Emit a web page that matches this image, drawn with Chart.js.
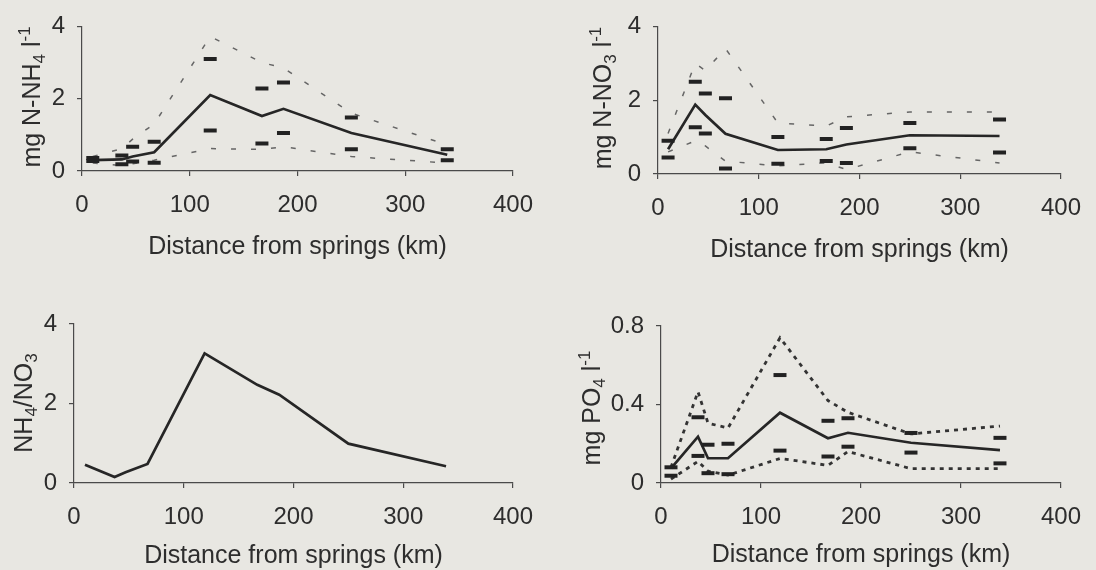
<!DOCTYPE html>
<html>
<head>
<meta charset="utf-8">
<script src="https://cdn.jsdelivr.net/npm/chart.js@4.4.1/dist/chart.umd.min.js"></script>
<style>
  html, body { margin: 0; padding: 0; background: #e8e7e2; }
  #wrap { position: relative; width: 1096px; height: 570px; overflow: hidden; }
  canvas { position: absolute; }
</style>
</head>
<body>
<div id="wrap">
  <canvas id="c1" width="548" height="285" style="left:0;top:0"></canvas>
  <canvas id="c2" width="548" height="285" style="left:548px;top:0"></canvas>
  <canvas id="c3" width="548" height="285" style="left:0;top:285px"></canvas>
  <canvas id="c4" width="548" height="285" style="left:548px;top:285px"></canvas>
</div>
<script>
// sampling sites, km from the springs
let distance = [10, 37, 47, 67, 119, 167, 187, 250, 339];

// N-NH4 (mg/l)
let nh4Mean = [0.3, 0.32, 0.4, 0.52, 2.1, 1.52, 1.72, 1.05, 0.45];
let nh4Max  = [0.4, 0.62, 0.88, 1.3, 3.72, 3.0, 2.85, 1.6, 0.72];
let nh4Min  = [0.22, 0.15, 0.2, 0.3, 0.62, 0.6, 0.67, 0.4, 0.22];
let nh4Hi   = [0.36, 0.43, 0.67, 0.81, 3.1, 2.28, 2.45, 1.48, 0.6];
let nh4Lo   = [0.28, 0.19, 0.26, 0.23, 1.12, 0.76, 1.05, 0.6, 0.3];

// N-NO3 (mg/l)
let no3Mean = [0.67, 1.88, 1.6, 1.09, 0.65, 0.67, 0.8, 1.05, 1.03];
let no3Max  = [1.1, 3.0, 2.8, 3.4, 1.38, 1.3, 1.55, 1.68, 1.68];
let no3Min  = [0.6, 0.9, 0.76, 0.35, 0.22, 0.3, 0.12, 0.6, 0.3];
let no3Hi   = [0.9, 2.5, 2.18, 2.05, 1.0, 0.95, 1.25, 1.38, 1.48];
let no3Lo   = [0.45, 1.27, 1.1, 0.15, 0.28, 0.35, 0.3, 0.7, 0.58];

// NH4/NO3 ratio
let ratio = [0.46, 0.15, 0.27, 0.48, 3.26, 2.47, 2.22, 0.99, 0.42];

// PO4 (mg/l)
let po4Mean = [0.075, 0.236, 0.126, 0.126, 0.358, 0.228, 0.256, 0.205, 0.168];
let po4Max  = [0.08, 0.465, 0.305, 0.28, 0.74, 0.42, 0.36, 0.25, 0.29];
let po4Min  = [0.02, 0.11, 0.06, 0.04, 0.125, 0.09, 0.16, 0.073, 0.073];
let po4Hi   = [0.08, 0.335, 0.195, 0.2, 0.55, 0.317, 0.33, 0.255, 0.23];
let po4Lo   = [0.037, 0.138, 0.05, 0.045, 0.165, 0.135, 0.185, 0.155, 0.1];

let xTicks = [0, 100, 200, 300, 400];

const ink = "#2d2d2d";
const axisCol = "#4a4a4a";
const family = '"Liberation Sans", Arial, sans-serif';
const font = { family: family, size: 24 };
const titleFont = { family: family, size: 25 };

function pts(ys) {
  return distance.map((x, i) => ({ x: x, y: ys[i] }));
}

function meanLine(ys) {
  return { data: pts(ys), showLine: true, borderColor: "#262626", borderWidth: 2.7, pointRadius: 0, tension: 0 };
}
function rangeLine(ys, dash, w, col) {
  return { data: pts(ys), showLine: true, borderColor: col, borderWidth: w, borderDash: dash, pointRadius: 0, tension: 0 };
}
function marks(ys) {
  return { data: pts(ys), showLine: false, pointStyle: "line", pointRadius: 6.5, pointBorderWidth: 4, pointBorderColor: "#222", pointBackgroundColor: "#222" };
}

// y axis title with sub / superscripts
const yTitlePlugin = {
  id: "yTitle",
  afterDraw(chart, args, o) {
    const ctx = chart.ctx;
    ctx.save();
    ctx.translate(o.x, o.y);
    ctx.rotate(-Math.PI / 2);
    ctx.fillStyle = ink;
    ctx.textBaseline = "alphabetic";
    let total = 0;
    const widths = o.parts.map(p => {
      ctx.font = (p.s ? 17 : 25) + "px " + family;
      const w = ctx.measureText(p.t).width;
      total += w;
      return w;
    });
    let x = -total / 2;
    o.parts.forEach((p, i) => {
      ctx.font = (p.s ? 17 : 25) + "px " + family;
      let dy = 0;
      if (p.s === -1) dy = 5;
      if (p.s === 1) dy = -10;
      ctx.fillText(p.t, x, 9 + dy);
      x += widths[i];
    });
    ctx.restore();
  }
};

function panel(id, area, yMax, yStep, datasets, yTitle) {
  const W = 548, H = 285;
  return new Chart(document.getElementById(id), {
    type: "scatter",
    data: { datasets: datasets },
    options: {
      responsive: false,
      animation: false,
      layout: { padding: { left: 0, top: area.top, right: W - area.right, bottom: 0 } },
      plugins: { legend: { display: false }, tooltip: { enabled: false }, yTitle: yTitle },
      scales: {
        x: {
          type: "linear", min: 0, max: 400,
          afterBuildTicks: s => { s.ticks = xTicks.map(v => ({ value: v })); },
          ticks: { color: ink, font: font, padding: 15 },
          grid: { drawOnChartArea: false, tickLength: 5, color: axisCol, lineWidth: 1.2 },
          border: { color: axisCol, width: 1.2 },
          title: { display: true, text: "Distance from springs (km)", color: ink, font: titleFont, padding: { top: 0, bottom: area.titlePad } },
          afterFit: s => { s.height = H - area.bottom; }
        },
        y: {
          type: "linear", min: 0, max: yMax,
          ticks: { stepSize: yStep, color: ink, font: font, padding: 12 },
          grid: { drawOnChartArea: false, tickLength: 5, color: axisCol, lineWidth: 1.2 },
          border: { color: axisCol, width: 1.2 },
          afterFit: s => { s.width = area.left; }
        }
      }
    },
    plugins: [yTitlePlugin]
  });
}

const sparse = [5, 15];

panel("c1", { left: 82, right: 518, top: 22, bottom: 171, titlePad: 23 }, 4, 2, [
  marks(nh4Hi), marks(nh4Lo),
  meanLine(nh4Mean),
  rangeLine(nh4Max, sparse, 1.5, "#666"), rangeLine(nh4Min, sparse, 1.5, "#666")
], { x: 31, y: 97, parts: [{ t: "mg N-NH" }, { t: "4", s: -1 }, { t: " l" }, { t: "-1", s: 1 }] });

panel("c2", { left: 110, right: 523, top: 24, bottom: 174, titlePad: 20 }, 4, 2, [
  marks(no3Hi), marks(no3Lo),
  meanLine(no3Mean),
  rangeLine(no3Max, sparse, 1.5, "#666"), rangeLine(no3Min, sparse, 1.5, "#666")
], { x: 54, y: 98, parts: [{ t: "mg N-NO" }, { t: "3", s: -1 }, { t: " l" }, { t: "-1", s: 1 }] });

panel("c3", { left: 74, right: 520, top: 39, bottom: 198, titlePad: -1 }, 4, 2, [
  meanLine(ratio)
], { x: 23, y: 118, parts: [{ t: "NH" }, { t: "4", s: -1 }, { t: "/NO" }, { t: "3", s: -1 }] });

panel("c4", { left: 113, right: 525, top: 41, bottom: 198, titlePad: 0 }, 0.8, 0.4, [
  marks(po4Hi), marks(po4Lo),
  meanLine(po4Mean),
  rangeLine(po4Max, [4, 5], 2.8, "#333"), rangeLine(po4Min, [4, 5], 2.8, "#333")
], { x: 43, y: 123, parts: [{ t: "mg PO" }, { t: "4", s: -1 }, { t: " l" }, { t: "-1", s: 1 }] });
</script>
</body>
</html>
